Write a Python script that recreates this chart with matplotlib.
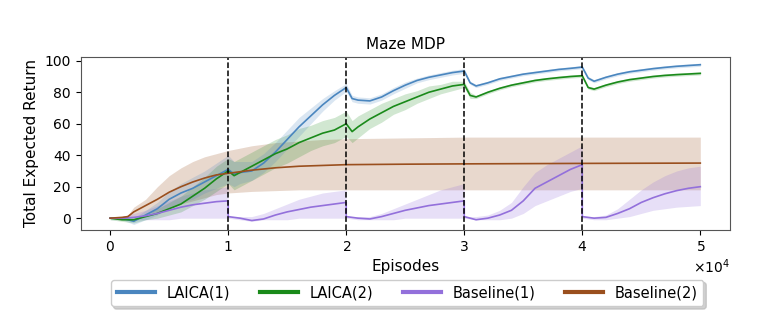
import numpy as np
import matplotlib
matplotlib.use('Agg')
import matplotlib.pyplot as plt
from matplotlib.ticker import ScalarFormatter

# episodes in thousands
x_laica = [0, 1, 2, 3, 4, 5, 6, 7, 8, 9, 10,
           10.5, 11, 12, 13, 14, 15, 16, 17, 18, 19, 20,
           20.5, 21, 22, 23, 24, 25, 26, 27, 28, 29, 30,
           30.5, 31, 32, 33, 34, 35, 36, 37, 38, 39, 40,
           40.5, 41, 42, 43, 44, 45, 46, 47, 48, 49, 50]

laica1_mean = [0, 0, -2, 2, 6, 12, 16, 19, 23, 27, 31,
               28, 29, 30, 35, 42, 50, 58, 65, 72, 78, 83,
               76, 75, 74.5, 77, 81, 84.5, 87.5, 89.5, 91, 92.5, 93.5,
               86, 84, 86, 88.5, 90, 91.5, 92.5, 93.5, 94.5, 95.2, 96,
               89, 87, 89.5, 91.5, 93, 94, 95, 95.8, 96.5, 97, 97.5]
laica1_std = [1, 1, 2, 3, 4, 5, 6, 7, 7, 8, 9,
              8, 7, 6, 6, 6, 6, 6, 5, 4, 3, 2.5,
              2, 2, 2, 2, 2, 2, 1.5, 1.5, 1.5, 1.5, 1.5,
              1, 1, 1, 1, 1, 1, 1, 1, 1, 1, 1,
              1, 1, 1, 1, 1, 1, 1, 1, 1, 1, 1]

laica2_mean = [0, -1, -1, 1, 3, 6, 9, 14, 19, 25, 30,
               27, 29, 33, 37, 41, 44, 48, 51, 54, 56, 60,
               55, 58, 63, 67, 71, 74, 77, 80, 82, 84, 85,
               78, 77, 80, 82.5, 84.5, 86, 87.5, 88.5, 89.3, 90, 90.5,
               83, 82, 84.5, 86.5, 88, 89, 90, 90.7, 91.2, 91.6, 92]
laica2_std = [1, 1, 2, 2, 3, 4, 5, 6, 7, 8, 8,
              9, 9, 9, 9, 9, 9, 9, 8, 8, 8, 8,
              7, 7, 6, 6, 5, 5, 4, 4, 3, 3, 2,
              2, 1, 1, 1, 1, 1, 1, 1, 1, 1, 1,
              1, 1, 1, 1, 1, 1, 1, 1, 1, 1, 1]

x_base1 = [0, 1, 2, 3, 4, 5, 6, 7, 8, 9, 10,
           10, 11, 12, 13, 14, 15, 16, 17, 18, 19, 20,
           20, 21, 22, 23, 24, 25, 26, 27, 28, 29, 30,
           30, 31, 32, 33, 34, 35, 36, 37, 38, 39, 40,
           40, 41, 42, 43, 44, 45, 46, 47, 48, 49, 50]
base1_mean = [0, 0, 0.5, 1.5, 3, 5, 7, 8.5, 9.5, 10.5, 11,
              1, 0, -1.5, -0.5, 2, 4, 5.5, 7, 8, 9, 10,
              1, 0, -0.5, 1, 3, 5, 6.5, 8, 9, 10, 11,
              1, -1, 0, 2, 5, 11, 19, 23, 27, 31, 34,
              1, 0, 0.5, 3, 6, 10, 13, 15.5, 17.5, 19, 20]
base1_upper = [0, 1, 3, 5, 8, 11, 14, 16, 18, 19, 20,
               1, 1, 1, 3, 6, 9, 12, 14, 16, 17, 18,
               1, 1, 1, 3, 6, 9, 12, 15, 18, 20, 22,
               1, 1, 2, 5, 10, 20, 29, 34, 38, 42, 46,
               1, 1, 2, 6, 12, 18, 23, 27, 30, 32, 33]
base1_lower = [0, -1, -1, -1, -1, -1, 0, 0, 0, 0, 0,
               0, -1, -2, -1, -1, -1, 0, 0, 0, 0, 0,
               0, -1, -1, -1, -1, 0, 0, 0, 0, 0, 0,
               0, -1, -1, -1, 0, 3, 8, 11, 14, 17, 19,
               0, -1, -1, 0, 1, 3, 5, 6, 7, 7.5, 8]

x_base2 = [0, 1, 1.5, 2, 3, 4, 5, 6, 7, 8, 9, 10, 12, 14, 16, 18, 20, 25, 30, 40, 50]
base2_mean = [0, 0.5, 1, 4, 8, 12, 16.5, 20, 23, 25.5, 27.5, 28.5, 30.5, 32, 33, 33.5, 34, 34.3, 34.5, 34.8, 35]
base2_upper = [0, 1, 2, 7, 12, 20, 27, 32, 36, 39, 41, 43, 46, 48, 49, 50, 50.5, 51, 51.5, 51.5, 51.5]
base2_lower = [0, 0, 0, 1, 3, 4, 6, 9, 11, 13, 15, 16, 17, 17.5, 18, 18, 18, 18, 18, 18, 18]

task_switch = [10, 20, 30, 40]

c_l1 = '#4a86bf'
c_l2 = '#1a8a1a'
c_b1 = '#9370db'
c_b2 = '#9a4f1e'

fig = plt.figure(figsize=(7.61, 3.23), dpi=100)
ax = fig.add_axes([0.106, 0.288, 0.853, 0.536])

def k(v):
  return np.array(v, dtype=float) * 1000

xl = k(x_laica)
m1 = np.array(laica1_mean); s1 = np.array(laica1_std)
m2 = np.array(laica2_mean); s2 = np.array(laica2_std)

ax.fill_between(k(x_base2), base2_lower, base2_upper, color=c_b2, alpha=0.22, lw=0)
ax.fill_between(k(x_base1), base1_lower, base1_upper, color=c_b1, alpha=0.22, lw=0)
ax.fill_between(xl, m2 - s2, m2 + s2, color=c_l2, alpha=0.2, lw=0)
ax.fill_between(xl, m1 - s1, m1 + s1, color=c_l1, alpha=0.2, lw=0)

ax.plot(xl, m1, color=c_l1, lw=1.2, label='LAICA(1)')
ax.plot(xl, m2, color=c_l2, lw=1.2, label='LAICA(2)')
ax.plot(k(x_base1), base1_mean, color=c_b1, lw=1.2, label='Baseline(1)')
ax.plot(k(x_base2), base2_mean, color=c_b2, lw=1.2, label='Baseline(2)')

for t in task_switch:
  ax.axvline(t * 1000, color='k', ls='--', lw=1.1)

ax.set_xlim(-2500, 52500)
ax.set_ylim(-7.5, 102.5)
ax.set_yticks([0, 20, 40, 60, 80, 100])
fmt = ScalarFormatter(useMathText=True)
fmt.set_powerlimits((0, 0))
ax.xaxis.set_major_formatter(fmt)
ax.tick_params(labelsize=10)
ax.set_title('Maze MDP', fontsize=11)
ax.set_xlabel('Episodes', fontsize=11)
ax.set_ylabel('Total Expected Return', fontsize=11)
for sp in ax.spines.values():
  sp.set_color('#555555')

handles, labels = ax.get_legend_handles_labels()
leg = fig.legend(handles, labels, loc='center', bbox_to_anchor=(0.535, 0.093), ncol=4,
                 fontsize=10.5, handlelength=2.6, columnspacing=2.05,
                 shadow={'color': '0.7', 'alpha': 0.6}, fancybox=True, framealpha=1)
for ln in leg.get_lines():
  ln.set_linewidth(3)

fig.savefig('out.png', dpi=100)
